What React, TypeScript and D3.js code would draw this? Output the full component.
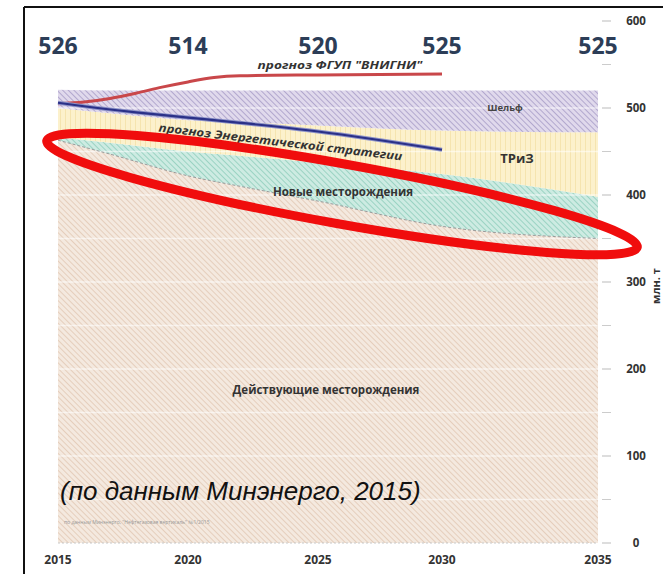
import React from "react";
import * as d3 from "d3";

const years = [2015, 2017, 2020, 2022, 2025, 2030, 2035];
const existing = [463, 447, 422, 410, 393, 364, 350];
const newFields = [3, 13, 28, 35, 44, 60, 48];
const triz = [34, 34, 36, 39, 43, 50, 74];
const shelf = [21, 26, 34, 36, 40, 46, 48];

const vnigniYears = [2015, 2016, 2017, 2018, 2019, 2020, 2021, 2022, 2025, 2030];
const vnigni = [505, 507, 511, 517, 524, 530, 535, 537, 538, 539];

const strategyYears = [2015, 2016, 2018, 2020, 2022, 2025, 2030];
const strategy = [506, 502, 495, 489, 483, 473, 452];

const labelYears = [2015, 2020, 2025, 2030, 2035];
const topValues = ["526", "514", "520", "525", "525"];
const yTicks = [0, 100, 200, 300, 400, 500, 600];
const yMinor = [50, 150, 250, 350, 450, 550];

const seriesKeys = ["existing", "newFields", "triz", "shelf"];
const seriesLabels = ["Действующие месторождения", "Новые месторождения", "ТРиЗ", "Шельф"];

export default function App() {
  const W = 663, H = 574;
  const x = d3.scaleLinear().domain([2015, 2020, 2025, 2030, 2035]).range([58, 188, 318, 442, 598]);
  const y = d3.scaleLinear().domain([0, 600]).range([543, 21]);

  const table = years.map((yr, i) => ({
    year: yr,
    existing: existing[i],
    newFields: newFields[i],
    triz: triz[i],
    shelf: shelf[i],
  }));
  const stacked = d3.stack<any>().keys(seriesKeys)(table);
  const area = d3
    .area<any>()
    .x((d) => x(d.data.year))
    .y0((d) => y(d[0]))
    .y1((d) => y(d[1]))
    .curve(d3.curveMonotoneX);
  const topLine = d3
    .line<any>()
    .x((d) => x(d.data.year))
    .y((d) => y(d[1]))
    .curve(d3.curveMonotoneX);

  const line = d3
    .line<[number, number]>()
    .x((d) => x(d[0]))
    .y((d) => y(d[1]))
    .curve(d3.curveMonotoneX);
  const redPts = vnigniYears.map((yr, i) => [yr, vnigni[i]] as [number, number]);
  const bluePts = strategyYears.map((yr, i) => [yr, strategy[i]] as [number, number]);

  const fills = ["url(#pExisting)", "url(#pNew)", "url(#pTriz)", "url(#pShelf)"];
  const font = "'Open Sans', 'DejaVu Sans', sans-serif";

  return (
    <svg width={W} height={H} style={{ position: "absolute", left: 0, top: 0, background: "#fff" }}>
      <defs>
        <pattern id="pExisting" width="4" height="4" patternUnits="userSpaceOnUse" patternTransform="rotate(-45)">
          <rect width="4" height="4" fill="#f4e9df" />
          <line x1="0" y1="0" x2="0" y2="4" stroke="#dfc3ad" strokeWidth="1.4" />
        </pattern>
        <pattern id="pNew" width="4" height="4" patternUnits="userSpaceOnUse" patternTransform="rotate(-45)">
          <rect width="4" height="4" fill="#cdebe2" />
          <line x1="0" y1="0" x2="0" y2="4" stroke="#86c9b6" strokeWidth="1.4" />
        </pattern>
        <pattern id="pTriz" width="5" height="5" patternUnits="userSpaceOnUse">
          <rect width="5" height="5" fill="#fcf1cc" />
          <line x1="0" y1="0" x2="0" y2="5" stroke="#f3e0a6" strokeWidth="1.5" />
        </pattern>
        <pattern id="pShelf" width="4" height="4" patternUnits="userSpaceOnUse" patternTransform="rotate(-45)">
          <rect width="4" height="4" fill="#e0d9ec" />
          <line x1="0" y1="0" x2="0" y2="4" stroke="#9f93c2" strokeWidth="1.4" />
        </pattern>
      </defs>

      {/* frame */}
      <line x1={24} y1={7} x2={W} y2={7} stroke="#111" strokeWidth={2} />
      <line x1={24} y1={7} x2={24} y2={H} stroke="#111" strokeWidth={2} />

      {/* stacked areas */}
      {stacked.map((s, i) => (
        <path key={seriesKeys[i]} d={area(s) || ""} fill={fills[i]} />
      ))}
      {/* gridlines */}
      {[...yTicks, ...yMinor].filter((v) => v > 0 && v < 520).map((v) => (
        <line key={"g" + v} x1={x(2015)} x2={x(2035)} y1={y(v)} y2={y(v)} stroke="#ffffff" strokeOpacity={0.55} strokeWidth={1.5} />
      ))}
      {/* boundary of existing fields */}
      <path d={topLine(stacked[0]) || ""} fill="none" stroke="#9a9a9a" strokeWidth={1} strokeDasharray="3,2" />
      <line x1={x(2015)} x2={x(2035)} y1={y(0)} y2={y(0)} stroke="#c9c9c9" strokeWidth={1} strokeDasharray="2,2" />

      {/* right axis */}
      {yTicks.map((v) => (
        <g key={"t" + v}>
          <line x1={602} x2={611} y1={y(v)} y2={y(v)} stroke="#bbb" strokeWidth={1} />
          <text x={636} y={y(v)} dy="0.35em" textAnchor="middle" fontFamily={font} fontWeight={700} fontSize={11.5} fill="#333">
            {v}
          </text>
        </g>
      ))}
      {yMinor.map((v) => (
        <line key={"m" + v} x1={602} x2={611} y1={y(v)} y2={y(v)} stroke="#ccc" strokeWidth={1} />
      ))}
      <text transform={`translate(660,286) rotate(-90)`} textAnchor="middle" fontFamily={font} fontWeight={700} fontSize={11} fill="#333">
        млн. т
      </text>

      {/* x labels */}
      {labelYears.map((yr) => (
        <text key={"x" + yr} x={x(yr)} y={564} textAnchor="middle" fontFamily={font} fontWeight={700} fontSize={12} fill="#333">
          {yr}
        </text>
      ))}

      {/* top totals */}
      {labelYears.map((yr, i) => (
        <text key={"v" + yr} x={x(yr)} y={54} textAnchor="middle" fontFamily={font} fontWeight={700} fontSize={23} fill="#2c3d57">
          {topValues[i]}
        </text>
      ))}

      {/* forecast lines */}
      <path d={line(redPts) || ""} fill="none" stroke="#c9474a" strokeWidth={3} />
      <path d={line(bluePts) || ""} fill="none" stroke="#8e93c8" strokeWidth={4} />
      <path d={line(bluePts) || ""} fill="none" stroke="#2b3188" strokeWidth={2.2} />

      <text x={340} y={69} textAnchor="middle" fontFamily={font} fontStyle="italic" fontWeight={700} fontSize={10.5} fill="#333" textLength={165} lengthAdjust="spacingAndGlyphs">
        прогноз ФГУП "ВНИГНИ"
      </text>
      <text transform={`translate(280,146) rotate(6.8)`} textAnchor="middle" fontFamily={font} fontStyle="italic" fontWeight={700} fontSize={11.5} fill="#333" textLength={245} lengthAdjust="spacingAndGlyphs">
        прогноз Энергетической стратегии
      </text>

      {/* area labels */}
      <text x={505} y={111} textAnchor="middle" fontFamily={font} fontWeight={700} fontSize={9.5} fill="#444">
        {seriesLabels[3]}
      </text>
      <text x={517} y={163} textAnchor="middle" fontFamily={font} fontWeight={700} fontSize={13} fill="#333">
        {seriesLabels[2]}
      </text>
      <text x={343} y={196} textAnchor="middle" fontFamily={font} fontWeight={700} fontSize={11.5} fill="#333">
        {seriesLabels[1]}
      </text>
      <text x={326} y={394} textAnchor="middle" fontFamily={font} fontWeight={700} fontSize={11.5} fill="#333">
        {seriesLabels[0]}
      </text>

      {/* source */}
      <text x={60} y={500} fontFamily="'Liberation Sans', Arial, sans-serif" fontStyle="italic" fontSize={26} fill="#111">
        (по данным Минэнерго, 2015)
      </text>
      <text x={64} y={524} fontFamily={font} fontSize={5} fill="#999">
        по данным Минэнерго, "Нефтегазовая вертикаль" №1/2015
      </text>

      {/* highlight ellipse */}
      <ellipse cx={342} cy={194} rx={300} ry={30} transform="rotate(10.2,342,194)" fill="none" stroke="#f00d0d" strokeWidth={9} />
    </svg>
  );
}
